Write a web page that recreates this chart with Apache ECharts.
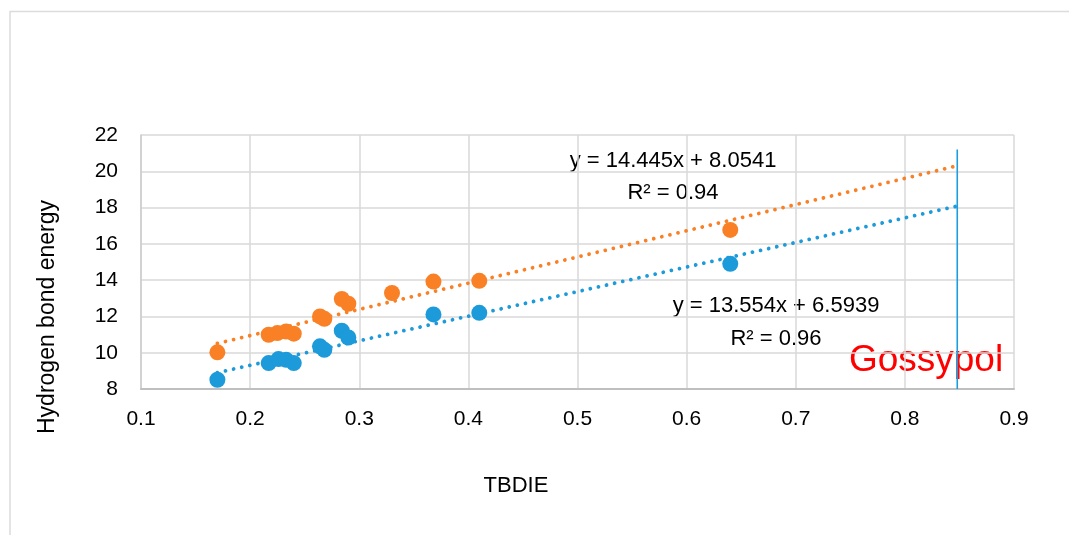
<!DOCTYPE html>
<html>
<head>
<meta charset="utf-8">
<script src="https://cdn.jsdelivr.net/npm/echarts@6/dist/echarts.min.js"></script>
<style>
html,body{margin:0;padding:0;background:#fff;}
#c{width:1069px;height:535px;}
</style>
</head>
<body>
<div id="c"></div>
<script>
// ---- data ----
const xTicks = [0.1, 0.2, 0.3, 0.4, 0.5, 0.6, 0.7, 0.8, 0.9];
const yTicks = [8, 10, 12, 14, 16, 18, 20, 22];

const blueX = [0.170, 0.217, 0.226, 0.233, 0.240, 0.264, 0.268, 0.284, 0.290, 0.368, 0.410, 0.640];
const blueY = [8.51, 9.43, 9.65, 9.61, 9.43, 10.35, 10.16, 11.21, 10.84, 12.11, 12.20, 14.90];

const orangeX = [0.170, 0.217, 0.225, 0.233, 0.240, 0.264, 0.268, 0.284, 0.290, 0.330, 0.368, 0.410, 0.640];
const orangeY = [10.02, 10.99, 11.08, 11.17, 11.05, 12.00, 11.87, 12.96, 12.70, 13.29, 13.92, 13.96, 16.77];

const trendX = [0.17, 0.85];
const orangeTrendY = [10.51, 20.33];
const blueTrendY = [8.90, 18.11];

const gossypolX = [0.848, 0.848];
const gossypolY = [8, 21.2];

const orangeLabel = ['y = 14.445x + 8.0541', 'R² = 0.94'];
const blueLabel = ['y = 13.554x + 6.5939', 'R² = 0.96'];
const markerLabel = 'Gossypol';
const xName = 'TBDIE';
const yName = 'Hydrogen bond energy';

// ---- build ----
const zip = (a, b) => a.map((v, i) => [v, b[i]]);
const FONT = 'Liberation Sans, Arial, sans-serif';
const ORANGE = '#FA8026';
const BLUE = '#1C9AD9';
const TXT = '#000000';

const chart = echarts.init(document.getElementById('c'), null, {renderer: 'canvas'});
const dot = [0.01, 8.3];

const txt = (x, y, text, size, color) => ({
  type: 'text', x: x, y: y,
  style: {text: text, fontSize: size, fontFamily: FONT, fill: color || TXT,
          textAlign: 'center', textVerticalAlign: 'middle'}
});

chart.setOption({
  animation: false,
  backgroundColor: '#fff',
  grid: {left: 141, right: 55, top: 135, bottom: 146, containLabel: false},
  xAxis: {
    type: 'value', min: xTicks[0], max: xTicks[xTicks.length - 1], interval: 0.1,
    axisLine: {show: true, lineStyle: {color: '#bfbfbf', width: 2}},
    axisTick: {show: false},
    splitLine: {show: true, lineStyle: {color: '#d9d9d9', width: 1.5}},
    axisLabel: {margin: 20, fontSize: 21, color: TXT, fontFamily: FONT,
      formatter: v => (Math.round(v * 10) / 10).toFixed(1)}
  },
  yAxis: {
    type: 'value', min: yTicks[0], max: yTicks[yTicks.length - 1], interval: 2,
    axisLine: {show: true, lineStyle: {color: '#cccccc', width: 1.5}},
    axisTick: {show: false},
    splitLine: {show: true, lineStyle: {color: '#d9d9d9', width: 1.5}},
    axisLabel: {margin: 23, fontSize: 21, color: TXT, fontFamily: FONT}
  },
  graphic: [
    {type: 'rect', silent: true, z: -10,
     shape: {x: 10, y: 11.5, width: 1200, height: 700},
     style: {fill: 'none', stroke: '#dcdcdc', lineWidth: 1.5}},
    Object.assign(txt(48, 317, yName, 23), {rotation: Math.PI / 2}),
    txt(516, 486, xName, 22),
    txt(673, 161, orangeLabel[0], 22),
    txt(673, 193, orangeLabel[1], 22),
    txt(776, 306, blueLabel[0], 22),
    txt(776, 339, blueLabel[1], 22),
    txt(926, 361, markerLabel, 37, '#ff0000')
  ],
  series: [
    {type: 'line', data: zip(gossypolX, gossypolY), showSymbol: false, silent: true,
     lineStyle: {color: '#1E9CE0', width: 1.6, opacity: 1}, z: 1},
    {type: 'line', data: zip(trendX, orangeTrendY), showSymbol: false, silent: true,
     lineStyle: {color: ORANGE, width: 3.8, type: dot, cap: 'round'}, z: 2},
    {type: 'line', data: zip(trendX, blueTrendY), showSymbol: false, silent: true,
     lineStyle: {color: BLUE, width: 3.8, type: dot, cap: 'round'}, z: 2},
    {type: 'scatter', data: zip(orangeX, orangeY), symbol: 'circle', symbolSize: 16,
     itemStyle: {color: ORANGE, opacity: 1}, z: 3},
    {type: 'scatter', data: zip(blueX, blueY), symbol: 'circle', symbolSize: 16,
     itemStyle: {color: BLUE, opacity: 1}, z: 3}
  ]
});
</script>
</body>
</html>
